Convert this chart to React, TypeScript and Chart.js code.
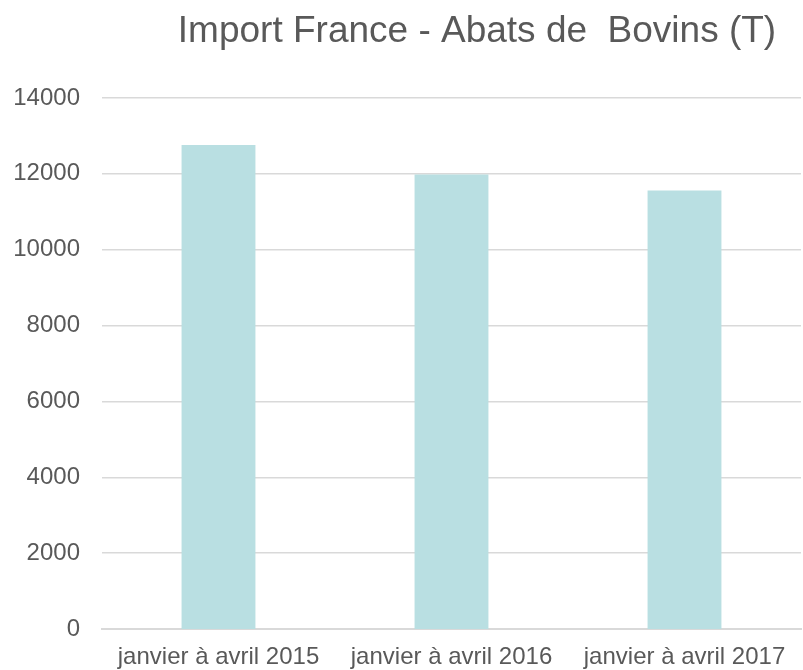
import React, { useEffect, useRef } from "react";
import { Chart, registerables } from "chart.js";

Chart.register(...registerables);

const TITLE = "Import France - Abats de  Bovins (T)";
const categories = ["janvier à avril 2015", "janvier à avril 2016", "janvier à avril 2017"];
const values = [12760, 11980, 11560];
const yMin = 0;
const yMax = 14000;
const yStep = 2000;

const FONT = "'Liberation Sans', Arial, sans-serif";
const TEXT = "#595959";
const GRID = "#d9d9d9";
const BAR = "#b9dfe2";

const titlePlugin = {
  id: "customTitle",
  afterDraw(chart: any) {
    const ctx = chart.ctx;
    ctx.save();
    ctx.font = `37px ${FONT}`;
    ctx.fillStyle = TEXT;
    ctx.textAlign = "center";
    ctx.textBaseline = "alphabetic";
    ctx.fillText(TITLE, 477, 42);
    ctx.restore();
  },
};

export default function App() {
  const ref = useRef<HTMLCanvasElement | null>(null);
  useEffect(() => {
    document.body.style.margin = "0";
    const chart = new Chart(ref.current as HTMLCanvasElement, {
      type: "bar",
      data: {
        labels: categories,
        datasets: [
          {
            data: values,
            backgroundColor: BAR,
            borderWidth: 0,
            categoryPercentage: 1,
            barPercentage: 0.317,
          },
        ],
      },
      options: {
        animation: false,
        responsive: false,
        maintainAspectRatio: false,
        layout: { padding: { top: 98, right: 2, bottom: 0, left: 0 } },
        plugins: {
          legend: { display: false },
          title: { display: false },
          tooltip: { enabled: false },
        },
        scales: {
          x: {
            grid: { display: false, drawTicks: false },
            border: { display: true, color: GRID, width: 2 },
            ticks: {
              color: TEXT,
              font: { family: FONT, size: 24 },
              padding: 14,
              maxRotation: 0,
              autoSkip: false,
            },
            afterFit(scale: any) {
              scale.height = 41;
            },
          },
          y: {
            min: yMin,
            max: yMax,
            grid: {
              color: GRID,
              lineWidth: (c: any) => (c.tick && c.tick.value === 0 ? 0 : 1.5),
              drawTicks: false,
            },
            border: { display: false },
            ticks: {
              stepSize: yStep,
              color: TEXT,
              font: { family: FONT, size: 24 },
              padding: 22,
              callback: (v: any) => String(v),
            },
            afterFit(scale: any) {
              scale.width = 102;
            },
          },
        },
      },
      plugins: [titlePlugin],
    });
    return () => chart.destroy();
  }, []);
  return (
    <div style={{ position: "fixed", left: 0, top: 0, width: 803, height: 670, background: "#fff" }}>
      <canvas ref={ref} width={803} height={670} style={{ width: 803, height: 670 }} />
    </div>
  );
}
